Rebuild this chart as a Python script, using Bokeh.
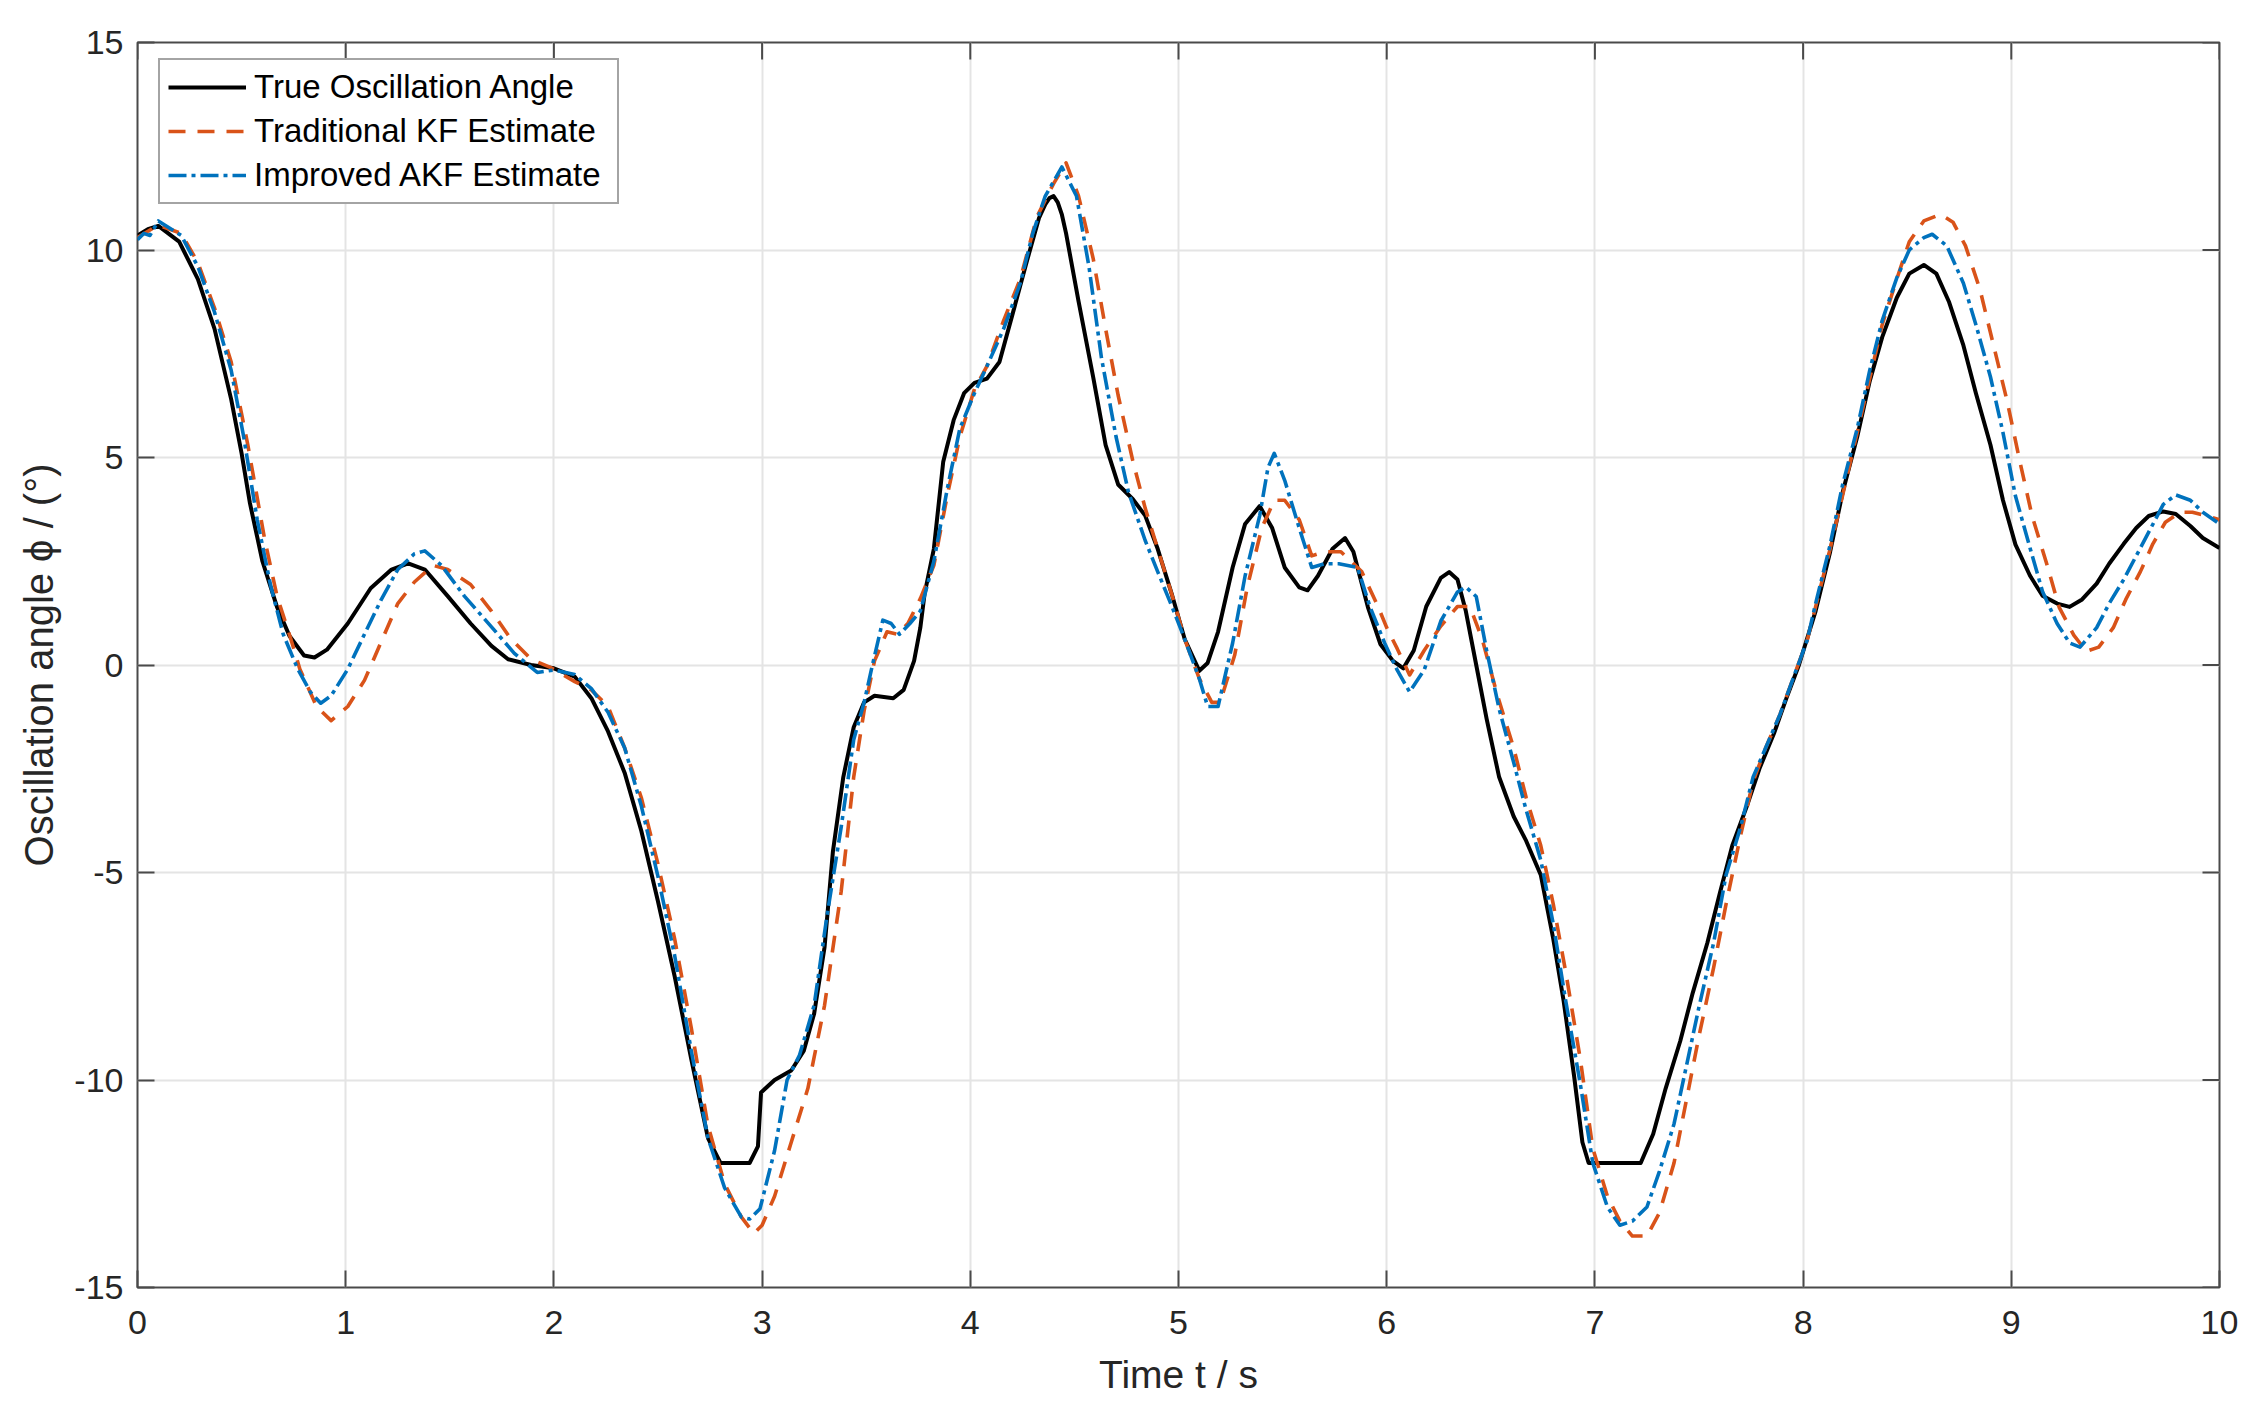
from bokeh.plotting import figure
from bokeh.models import FixedTicker, Range1d, Legend, LegendItem, CustomJSTickFormatter
from bokeh.embed import file_html
from bokeh.resources import INLINE

# ---------------- data ----------------
t_true = [0.00, 0.05, 0.10, 0.20, 0.29, 0.37, 0.45, 0.50, 0.54, 0.60, 0.67, 0.73, 0.80, 0.85, 0.91,
          1.01, 1.12, 1.22, 1.30, 1.38, 1.49, 1.60, 1.70, 1.78, 1.89, 2.00, 2.10, 2.18, 2.26, 2.34,
          2.42, 2.50, 2.58, 2.66, 2.74, 2.80, 2.94, 2.98, 2.995, 3.06, 3.14, 3.20, 3.25, 3.30, 3.34,
          3.39, 3.44, 3.49, 3.54, 3.63, 3.68, 3.73, 3.76, 3.78, 3.825, 3.87, 3.92, 3.97, 4.02, 4.08,
          4.14, 4.20, 4.27, 4.33, 4.36, 4.38, 4.40, 4.42, 4.44, 4.46, 4.52, 4.59, 4.65, 4.71, 4.78,
          4.84, 4.90, 4.97, 5.03, 5.10, 5.14, 5.19, 5.26, 5.32, 5.39, 5.45, 5.51, 5.58, 5.62, 5.67,
          5.74, 5.80, 5.84, 5.91, 5.97, 6.03, 6.08, 6.13, 6.19, 6.26, 6.30, 6.34, 6.38, 6.43, 6.48,
          6.54, 6.61, 6.67, 6.74, 6.80, 6.85, 6.90, 6.94, 6.97, 7.22, 7.28, 7.34, 7.41, 7.47, 7.54,
          7.60, 7.66, 7.73, 7.79, 7.86, 7.92, 7.98, 8.06, 8.13, 8.19, 8.26, 8.32, 8.38, 8.45, 8.51,
          8.58, 8.64, 8.70, 8.77, 8.83, 8.90, 8.96, 9.02, 9.09, 9.15, 9.22, 9.28, 9.34, 9.41, 9.47,
          9.54, 9.60, 9.66, 9.73, 9.79, 9.86, 9.92, 10.00]
y_true = [10.35, 10.50, 10.58, 10.20, 9.30, 8.10, 6.40, 5.10, 3.90, 2.50, 1.40, 0.70, 0.23, 0.18, 0.37,
          1.00, 1.85, 2.30, 2.45, 2.30, 1.66, 1.00, 0.46, 0.14, 0.00, -0.08, -0.28, -0.80, -1.60, -2.60,
          -4.00, -5.70, -7.50, -9.50, -11.40, -12.00, -12.00, -11.60, -10.30, -10.00, -9.77, -9.30, -8.40, -6.80, -4.50,
          -2.70, -1.50, -0.90, -0.74, -0.80, -0.60, 0.10, 0.90, 1.70, 2.80, 4.90, 5.90, 6.55, 6.80, 6.90,
          7.30, 8.40, 9.70, 10.77, 11.10, 11.25, 11.30, 11.15, 10.85, 10.40, 8.76, 6.94, 5.30, 4.35, 4.00,
          3.60, 2.80, 1.67, 0.62, -0.14, 0.05, 0.80, 2.35, 3.40, 3.83, 3.30, 2.35, 1.87, 1.80, 2.15,
          2.80, 3.06, 2.73, 1.39, 0.50, 0.10, -0.08, 0.35, 1.41, 2.10, 2.24, 2.06, 1.30, 0.00, -1.30,
          -2.70, -3.65, -4.24, -5.06, -6.60, -8.10, -9.90, -11.50, -12.00, -12.00, -11.30, -10.20, -9.06, -7.90, -6.70,
          -5.50, -4.35, -3.40, -2.50, -1.65, -0.80, 0.00, 1.30, 2.73, 4.16, 5.50, 6.84, 7.90, 8.85, 9.43,
          9.64, 9.43, 8.76, 7.70, 6.55, 5.30, 3.97, 2.90, 2.15, 1.67, 1.48, 1.40, 1.58, 1.96, 2.44,
          2.92, 3.30, 3.59, 3.70, 3.64, 3.35, 3.06, 2.82]

t_kf = [0.00, 0.10, 0.21, 0.29, 0.37, 0.45, 0.53, 0.61, 0.67, 0.735, 0.78, 0.86, 0.93, 1.01, 1.09,
        1.17, 1.25, 1.33, 1.42, 1.49, 1.60, 1.70, 1.79, 1.89, 1.98, 2.10, 2.18, 2.26, 2.34, 2.42,
        2.50, 2.58, 2.66, 2.74, 2.82, 2.90, 2.96, 3.00, 3.06, 3.14, 3.22, 3.30, 3.38, 3.44, 3.49,
        3.54, 3.60, 3.65, 3.70, 3.76, 3.825, 3.89, 3.95, 4.02, 4.08, 4.16, 4.24, 4.32, 4.40, 4.46,
        4.52, 4.59, 4.65, 4.71, 4.78, 4.84, 4.90, 4.97, 5.03, 5.10, 5.16, 5.20, 5.27, 5.33, 5.40,
        5.46, 5.51, 5.58, 5.64, 5.70, 5.78, 5.88, 5.96, 6.00, 6.05, 6.11, 6.18, 6.26, 6.34, 6.40,
        6.46, 6.53, 6.61, 6.67, 6.74, 6.80, 6.86, 6.93, 6.99, 7.06, 7.12, 7.18, 7.25, 7.31, 7.38,
        7.44, 7.50, 7.57, 7.63, 7.70, 7.76, 7.82, 7.89, 7.95, 8.02, 8.13, 8.26, 8.38, 8.45, 8.51,
        8.58, 8.66, 8.72, 8.78, 8.85, 8.91, 8.98, 9.04, 9.10, 9.17, 9.23, 9.30, 9.36, 9.42, 9.49,
        9.55, 9.62, 9.68, 9.74, 9.81, 9.87, 9.94, 10.00]
y_kf = [10.30, 10.60, 10.40, 9.70, 8.60, 7.30, 5.30, 3.05, 1.66, 0.65, -0.10, -1.00, -1.34, -1.00, -0.37,
        0.55, 1.48, 2.00, 2.40, 2.30, 1.94, 1.30, 0.65, 0.14, -0.05, -0.40, -0.60, -1.00, -2.00, -3.20,
        -4.80, -6.60, -8.75, -11.10, -12.50, -13.30, -13.70, -13.50, -12.80, -11.50, -10.20, -8.20, -5.45, -2.70, -1.10,
        0.10, 0.80, 0.74, 1.00, 1.60, 2.40, 4.10, 5.50, 6.65, 7.20, 8.30, 9.30, 10.80, 11.60, 12.10,
        11.30, 9.80, 8.10, 6.50, 4.93, 3.78, 2.80, 1.67, 0.62, -0.33, -0.90, -0.90, 0.24, 1.87, 3.30,
        3.97, 3.97, 3.50, 2.63, 2.73, 2.73, 2.25, 1.39, 0.90, 0.40, -0.24, 0.35, 0.94, 1.41, 1.41,
        0.60, -0.70, -2.00, -3.20, -4.35, -5.76, -7.40, -9.50, -11.65, -12.80, -13.40, -13.76, -13.76, -13.20, -12.00,
        -10.47, -8.94, -7.30, -5.76, -4.10, -2.80, -2.00, -1.18, -0.35, 0.60, 2.80, 5.60, 8.20, 9.30, 10.20,
        10.70, 10.86, 10.67, 10.10, 9.04, 7.80, 6.36, 4.93, 3.59, 2.44, 1.39, 0.72, 0.33, 0.43, 0.90,
        1.58, 2.25, 2.92, 3.44, 3.68, 3.68, 3.59, 3.50]

t_akf = [0.00, 0.03, 0.06, 0.10, 0.21, 0.29, 0.37, 0.45, 0.51, 0.575, 0.64, 0.70, 0.77, 0.83, 0.88,
         0.93, 1.01, 1.09, 1.17, 1.25, 1.33, 1.38, 1.46, 1.57, 1.70, 1.81, 1.92, 2.00, 2.10, 2.18,
         2.26, 2.34, 2.42, 2.50, 2.58, 2.66, 2.74, 2.82, 2.90, 2.94, 2.99, 3.06, 3.12, 3.18, 3.25,
         3.31, 3.38, 3.44, 3.49, 3.53, 3.58, 3.62, 3.66, 3.71, 3.76, 3.825, 3.89, 3.95, 4.02, 4.08,
         4.16, 4.24, 4.30, 4.36, 4.44, 4.51, 4.57, 4.63, 4.70, 4.76, 4.84, 4.90, 4.97, 5.03, 5.10,
         5.14, 5.19, 5.26, 5.32, 5.39, 5.43, 5.46, 5.51, 5.58, 5.64, 5.70, 5.77, 5.86, 5.92, 5.99,
         6.05, 6.11, 6.18, 6.26, 6.34, 6.38, 6.43, 6.48, 6.54, 6.61, 6.67, 6.74, 6.80, 6.86, 6.93,
         6.99, 7.06, 7.12, 7.18, 7.25, 7.31, 7.38, 7.44, 7.50, 7.57, 7.63, 7.70, 7.76, 7.82, 7.89,
         7.95, 8.02, 8.06, 8.13, 8.19, 8.26, 8.32, 8.38, 8.45, 8.51, 8.58, 8.62, 8.69, 8.77, 8.83,
         8.90, 8.96, 9.02, 9.09, 9.15, 9.22, 9.28, 9.33, 9.41, 9.47, 9.54, 9.60, 9.66, 9.73, 9.79,
         9.86, 9.92, 10.00]
y_akf = [10.25, 10.40, 10.35, 10.70, 10.35, 9.60, 8.50, 7.10, 5.50, 3.50, 1.90, 0.74, -0.10, -0.65, -0.92,
         -0.74, -0.10, 0.74, 1.57, 2.30, 2.68, 2.75, 2.40, 1.66, 0.92, 0.28, -0.18, -0.12, -0.23, -0.57,
         -1.14, -2.00, -3.40, -5.10, -7.00, -9.30, -11.40, -12.60, -13.30, -13.35, -13.10, -11.70, -10.00, -9.40, -8.20,
         -6.10, -3.90, -1.80, -0.90, 0.00, 1.08, 1.00, 0.74, 1.00, 1.30, 2.50, 4.26, 5.70, 6.55, 7.20,
         8.10, 9.20, 10.40, 11.30, 12.00, 11.30, 9.60, 7.40, 5.50, 4.16, 3.00, 2.25, 1.39, 0.62, -0.33,
         -1.00, -1.00, 0.53, 2.15, 3.60, 4.76, 5.10, 4.45, 3.30, 2.35, 2.44, 2.44, 2.35, 1.40, 0.53,
         -0.12, -0.65, -0.12, 1.06, 1.76, 1.88, 1.65, 0.35, -1.06, -2.35, -3.50, -4.70, -6.24, -8.10, -10.10,
         -12.00, -13.06, -13.50, -13.40, -13.06, -12.20, -11.06, -9.65, -8.24, -6.70, -5.06, -3.90, -2.70, -2.00, -1.18,
         -0.35, 0.60, 1.48, 2.90, 4.35, 5.70, 7.10, 8.30, 9.33, 10.00, 10.30, 10.38, 10.10, 9.20, 8.20,
         6.94, 5.60, 4.07, 2.82, 1.77, 1.00, 0.53, 0.43, 0.90, 1.48, 2.06, 2.63, 3.20, 3.87, 4.10,
         3.97, 3.68, 3.40]

x_ticks = [0, 1, 2, 3, 4, 5, 6, 7, 8, 9, 10]
y_ticks = [-15, -10, -5, 0, 5, 10, 15]
series_names = ["True Oscillation Angle", "Traditional KF Estimate", "Improved AKF Estimate"]

# ---------------- figure ----------------
FONT = "Liberation Sans"
TXT = "#262626"
FRAME = "#4a4a4a"
FW, FH = 2082, 1245
X0, X1 = x_ticks[0], x_ticks[-1]
Y0, Y1 = y_ticks[0], y_ticks[-1]
TICK_PX = 17

p = figure(frame_width=FW, frame_height=FH,
           min_border_left=137, min_border_right=29, min_border_top=42, min_border_bottom=113,
           x_range=Range1d(X0, X1), y_range=Range1d(Y0, Y1),
           output_backend="svg", toolbar_location=None,
           background_fill_color="white", border_fill_color="white")

p.outline_line_color = FRAME
p.outline_line_width = 2

for g in (p.xgrid[0], p.ygrid[0]):
    g.grid_line_color = "#e4e4e4"
    g.grid_line_width = 2
p.xgrid[0].ticker = FixedTicker(ticks=x_ticks)
p.ygrid[0].ticker = FixedTicker(ticks=y_ticks)

fmt = CustomJSTickFormatter(code="return tick.toString();")
for ax, ticks in ((p.xaxis[0], x_ticks), (p.yaxis[0], y_ticks)):
    ax.ticker = FixedTicker(ticks=ticks)
    ax.formatter = fmt
    ax.axis_line_color = None
    ax.major_tick_line_color = FRAME
    ax.major_tick_line_width = 2
    ax.major_tick_in = TICK_PX
    ax.major_tick_out = 0
    ax.minor_tick_line_color = None
    ax.major_label_text_font = FONT
    ax.major_label_text_font_size = "34px"
    ax.major_label_text_color = TXT
    ax.axis_label_text_font = FONT
    ax.axis_label_text_color = TXT
    ax.axis_label_text_font_style = "normal"

xa, ya = p.xaxis[0], p.yaxis[0]
xa.major_label_standoff = 23
ya.major_label_standoff = 14
xa.axis_label = "Time t / s"
ya.axis_label = "Oscillation angle \u03d5 / (\u00b0)"
xa.axis_label_text_font_size = "39px"
ya.axis_label_text_font_size = "40px"
xa.axis_label_standoff = 16
ya.axis_label_standoff = 10

# inner ticks on the top and right edges of the box (MATLAB "box on")
dx = TICK_PX * (X1 - X0) / FW
dy = TICK_PX * (Y1 - Y0) / FH
p.segment(x0=x_ticks, y0=[Y1] * len(x_ticks), x1=x_ticks, y1=[Y1 - dy] * len(x_ticks),
          line_color=FRAME, line_width=2)
p.segment(x0=[X1] * len(y_ticks), y0=y_ticks, x1=[X1 - dx] * len(y_ticks), y1=y_ticks,
          line_color=FRAME, line_width=2)

r_true = p.line(t_true, y_true, line_color="black", line_width=4, line_join="round")
r_kf = p.line(t_kf, y_kf, line_color="#D95319", line_width=3.6, line_dash="17 12", line_join="round")
r_akf = p.line(t_akf, y_akf, line_color="#0072BD", line_width=3.6, line_dash="18 5 4 5", line_join="round")

LEG_H = 142
legend = Legend(items=[LegendItem(label=series_names[0], renderers=[r_true]),
                       LegendItem(label=series_names[1], renderers=[r_kf]),
                       LegendItem(label=series_names[2], renderers=[r_akf])],
                location=(21, FH - 20 - LEG_H), orientation="vertical")
legend.label_text_font = FONT
legend.label_text_font_size = "33px"
legend.label_text_color = "black"
legend.glyph_width = 78
legend.glyph_height = 38
legend.label_height = 38
legend.label_width = 355
legend.label_standoff = 8
legend.spacing = 6
legend.padding = 8
legend.margin = 0
legend.border_line_color = FRAME
legend.border_line_width = 2
legend.background_fill_color = "white"
legend.background_fill_alpha = 1.0
p.add_layout(legend, "center")

open("out.html", "w").write(file_html(p, INLINE))
